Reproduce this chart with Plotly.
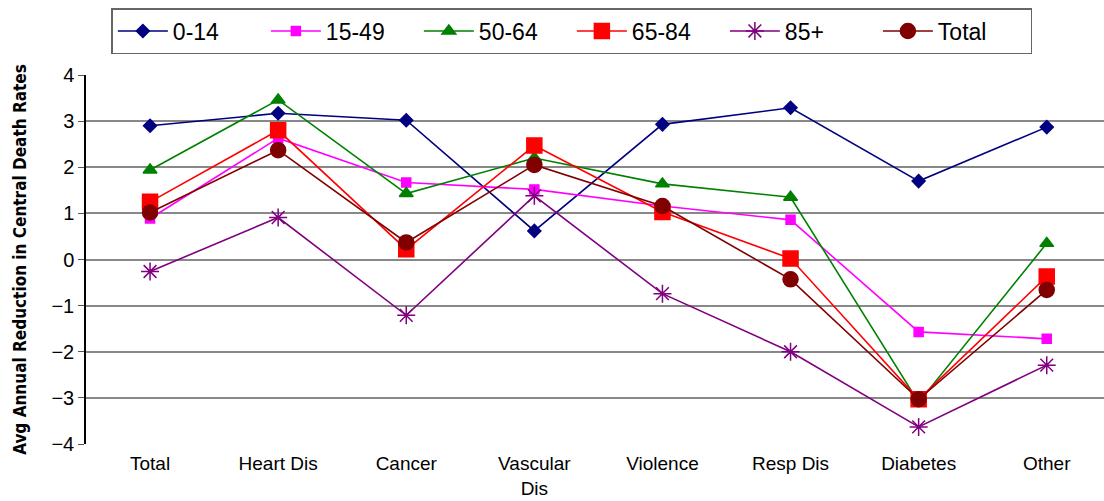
import plotly.graph_objects as go

# causes of death along the x axis
categories = ["Total", "Heart Dis", "Cancer", "Vascular<br>Dis", "Violence", "Resp Dis", "Diabetes", "Other"]

# avg annual reduction in central death rates, by age group
age_0_14 = [2.9, 3.17, 3.02, 0.62, 2.93, 3.29, 1.7, 2.87]
age_15_49 = [0.89, 2.63, 1.67, 1.52, 1.16, 0.86, -1.57, -1.72]
age_50_64 = [1.94, 3.46, 1.43, 2.2, 1.64, 1.35, -3.1, 0.35]
age_65_84 = [1.25, 2.8, 0.22, 2.47, 1.03, 0.02, -3.03, -0.37]
age_85_plus = [-0.26, 0.91, -1.21, 1.38, -0.74, -2.0, -3.63, -2.29]
total = [1.02, 2.37, 0.37, 2.05, 1.16, -0.43, -3.03, -0.66]

y_ticks = [4, 3, 2, 1, 0, -1, -2, -3, -4]

series = [
    ("0-14", age_0_14, "#000080", "diamond", 10),
    ("15-49", age_15_49, "#ff00ff", "square", 9),
    ("50-64", age_50_64, "#008000", "triangle-up", 12),
    ("65-84", age_65_84, "#ff0000", "square", 15),
    ("85+", age_85_plus, "#800080", "asterisk-open", 15),
    ("Total", total, "#800000", "circle", 15),
]

fig = go.Figure()
for name, vals, color, symbol, size in series:
  fig.add_trace(go.Scatter(
      x=categories, y=vals, name=name, mode="lines+markers",
      line=dict(color=color, width=1.6),
      marker=dict(symbol=symbol, size=size, color=color,
                  line=dict(color=color, width=1.5))))

fig.update_layout(
    width=1104, height=501,
    margin=dict(l=86, r=0, t=75, b=57, autoexpand=False),
    paper_bgcolor="white", plot_bgcolor="white",
    font=dict(family="Arial, Liberation Sans", size=20, color="black"),
    showlegend=True,
    legend=dict(orientation="h", xref="container", yref="container",
                x=0.518, xanchor="center", y=0.984, yanchor="top",
                bordercolor="#666666", borderwidth=1.5, font=dict(size=23),
                itemwidth=50, entrywidth=88, entrywidthmode="pixels", tracegroupgap=0),
    xaxis=dict(type="category", range=[-0.5, 7.447], showgrid=False, zeroline=False,
               showline=False, ticks="", ticklabelstandoff=6,
               tickfont=dict(size=19), automargin=False),
    xaxis2=dict(overlaying="x", anchor="free", position=0.5, range=[-0.5, 7.447],
                tickvals=[0.5, 1.5, 2.5, 3.5, 4.5, 5.5, 6.5], showticklabels=False,
                ticks="outside", ticklen=6, tickwidth=1.5, tickcolor="black", showgrid=False,
                zeroline=False, showline=False),
    yaxis=dict(range=[-4, 4], tickvals=y_ticks, showgrid=True, gridcolor="#888888",
               gridwidth=1.5, zeroline=False, showline=True, linecolor="black",
               linewidth=1.5, ticks="outside", ticklen=6, tickcolor="#555555",
               tickfont=dict(size=20), automargin=False,
               title=dict(text="<b>Avg Annual Reduction in Central Death Rates</b>",
                          font=dict(family="DejaVu Sans Condensed, Liberation Sans", size=17),
                          standoff=20)),
    yaxis2=dict(overlaying="y", range=[-4, 4], tickvals=[0, -1, -2, -3],
                showticklabels=False, showgrid=True, gridcolor="black", gridwidth=1.2,
                zeroline=False, side="left", layer="below traces"),
)

fig.write_html("out.html", config={"displayModeBar": False},
               post_script="document.body.style.margin='0';")
